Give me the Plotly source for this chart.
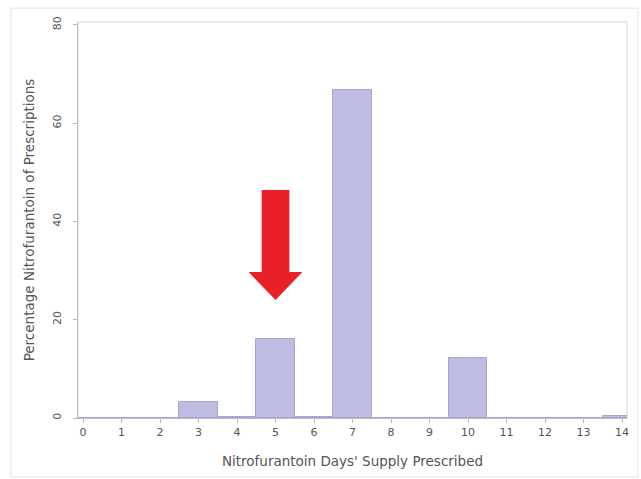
import plotly.graph_objects as go

days = list(range(0, 15))
percent = [0, 0, 0, 3.3, 0.3, 16.1, 0.3, 66.7, 0, 0, 12.2, 0, 0, 0, 0.5]
x_ticks = list(range(0, 15))
y_ticks = [0, 20, 40, 60, 80]

# arrow pointing at 5-day bar (data units)
arrow_x = 5
arrow_shaft_half = 0.36
arrow_head_half = 0.70
arrow_tip = 24.0
arrow_head_top = 29.7
arrow_shaft_top = 46.4

fig = go.Figure()
fig.add_trace(go.Bar(
    x=days, y=percent, width=1.0,
    marker=dict(color="#BEBCE2", line=dict(color="#A8A5D3", width=1)),
    showlegend=False,
))

path = (
    f"M {arrow_x - arrow_shaft_half} {arrow_shaft_top} "
    f"L {arrow_x + arrow_shaft_half} {arrow_shaft_top} "
    f"L {arrow_x + arrow_shaft_half} {arrow_head_top} "
    f"L {arrow_x + arrow_head_half} {arrow_head_top} "
    f"L {arrow_x} {arrow_tip} "
    f"L {arrow_x - arrow_head_half} {arrow_head_top} "
    f"L {arrow_x - arrow_shaft_half} {arrow_head_top} Z"
)
fig.add_shape(type="path", path=path, xref="x", yref="y",
              fillcolor="#E8202A", line=dict(width=0))

# plot frame (light lines)
fig.add_shape(type="rect", xref="paper", yref="paper", x0=0, x1=1, y0=0, y1=1,
              line=dict(color="#D8D8D8", width=1), layer="below")
# outer image frame
fig.add_shape(type="rect", xref="paper", yref="paper", x0=-0.122, x1=1.02,
              y0=-0.149, y1=1.035, line=dict(color="#E4E4E4", width=1))

axis_font = dict(family="DejaVu Sans, sans-serif", size=11, color="#555555")
title_font = dict(family="DejaVu Sans, sans-serif", size=13.5, color="#555555")

fig.update_layout(
    width=641, height=479,
    margin=dict(l=78, r=14, t=22, b=61),
    paper_bgcolor="white", plot_bgcolor="white",
    bargap=0,
    xaxis=dict(
        range=[-0.13, 14.13], tickmode="array", tickvals=x_ticks,
        ticks="outside", ticklen=4, tickcolor="#BBBBBB",
        showline=True, linecolor="#BBBBBB", linewidth=1,
        showgrid=False, zeroline=False, tickfont=axis_font, automargin=False,
        title=dict(text="Nitrofurantoin Days' Supply Prescribed", font=title_font, standoff=18),
    ),
    yaxis=dict(
        range=[0, 80.6], tickmode="array", tickvals=y_ticks, tickangle=-90,
        ticks="outside", ticklen=4, tickcolor="#BBBBBB", ticklabelstandoff=8,
        showline=True, linecolor="#BBBBBB", linewidth=1,
        showgrid=False, zeroline=False, tickfont=axis_font, automargin=False,
        title=dict(text="Percentage Nitrofurantoin of Prescriptions", font=title_font, standoff=12),
    ),
)

fig.write_html("out.html", config={"displayModeBar": False})

# remove default browser body margin so the figure sits at the window origin
with open("out.html", "r", encoding="utf-8") as f:
    html = f.read()
html = html.replace("<body>", "<body style=\"margin:0;overflow:hidden\">", 1)
with open("out.html", "w", encoding="utf-8") as f:
    f.write(html)
